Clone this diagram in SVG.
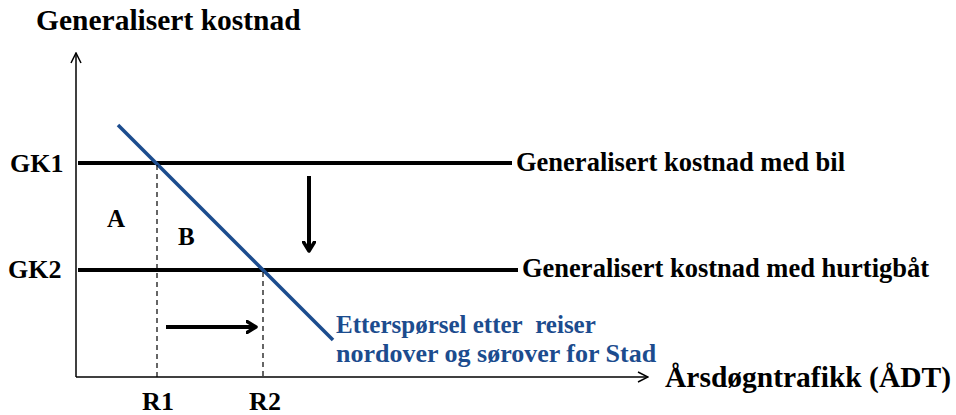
<svg xmlns="http://www.w3.org/2000/svg" width="956" height="415" viewBox="0 0 956 415">
<style>
text{font-family:"Liberation Serif","Times New Roman",serif;font-weight:bold;fill:#000}
.blue{fill:#1c4c8e}
.axis{stroke:#000;stroke-width:1.5;fill:none}
.thick{stroke:#000;stroke-width:4;fill:none}
.dash{stroke:#000;stroke-width:1.2;stroke-dasharray:5,4;fill:none}
</style>
<defs>
<marker id="open" viewBox="0 0 12 12" refX="11" refY="6" markerWidth="12" markerHeight="12" markerUnits="userSpaceOnUse" orient="auto">
<path d="M1,1 L11,6 L1,11" fill="none" stroke="#000" stroke-width="1.5"/>
</marker>
<marker id="bold" viewBox="0 0 12 14" refX="10" refY="7" markerWidth="12" markerHeight="14" markerUnits="userSpaceOnUse" orient="auto">
<path d="M1,1.5 L10,7 L1,12.5" fill="none" stroke="#000" stroke-width="3.5" stroke-linecap="round" stroke-linejoin="round"/>
</marker>
</defs>
<g id="axes">
<line class="axis" x1="76" y1="377" x2="76" y2="53" marker-end="url(#open)"/>
<line class="axis" x1="76" y1="377" x2="648" y2="377" marker-end="url(#open)"/>
<text x="36" y="30" font-size="29.5">Generalisert kostnad</text>
<text x="665" y="387" font-size="29.5">Årsdøgntrafikk (ÅDT)</text>
</g>
<g id="gk1">
<line class="thick" x1="78" y1="163" x2="512" y2="163"/>
<text x="10" y="172" font-size="26">GK1</text>
<text x="516" y="171" font-size="26.5">Generalisert kostnad med bil</text>
</g>
<g id="gk2">
<line class="thick" x1="78" y1="270" x2="518" y2="270"/>
<text x="8" y="278" font-size="26">GK2</text>
<text x="522" y="277" font-size="26.5">Generalisert kostnad med hurtigbåt</text>
</g>
<g id="demand">
<line x1="118" y1="125" x2="333" y2="340" stroke="#1c4c8e" stroke-width="3.5"/>
<text class="blue" x="336" y="333" font-size="25">Etterspørsel etter&#160; reiser</text>
<text class="blue" x="336" y="362" font-size="26">nordover og sørover for Stad</text>
</g>
<g id="r1">
<line class="dash" x1="157" y1="165" x2="157" y2="377"/>
<text x="158" y="410" font-size="26" text-anchor="middle">R1</text>
</g>
<g id="r2">
<line class="dash" x1="263" y1="272" x2="263" y2="377"/>
<text x="265" y="410" font-size="26" text-anchor="middle">R2</text>
</g>
<g id="areas">
<text x="107" y="227" font-size="25">A</text>
<text x="178" y="245" font-size="25">B</text>
</g>
<g id="connectors">
<line class="thick" x1="166" y1="327" x2="256" y2="327" marker-end="url(#bold)"/>
<line class="thick" x1="309" y1="176" x2="309" y2="251" marker-end="url(#bold)"/>
</g>
</svg>
